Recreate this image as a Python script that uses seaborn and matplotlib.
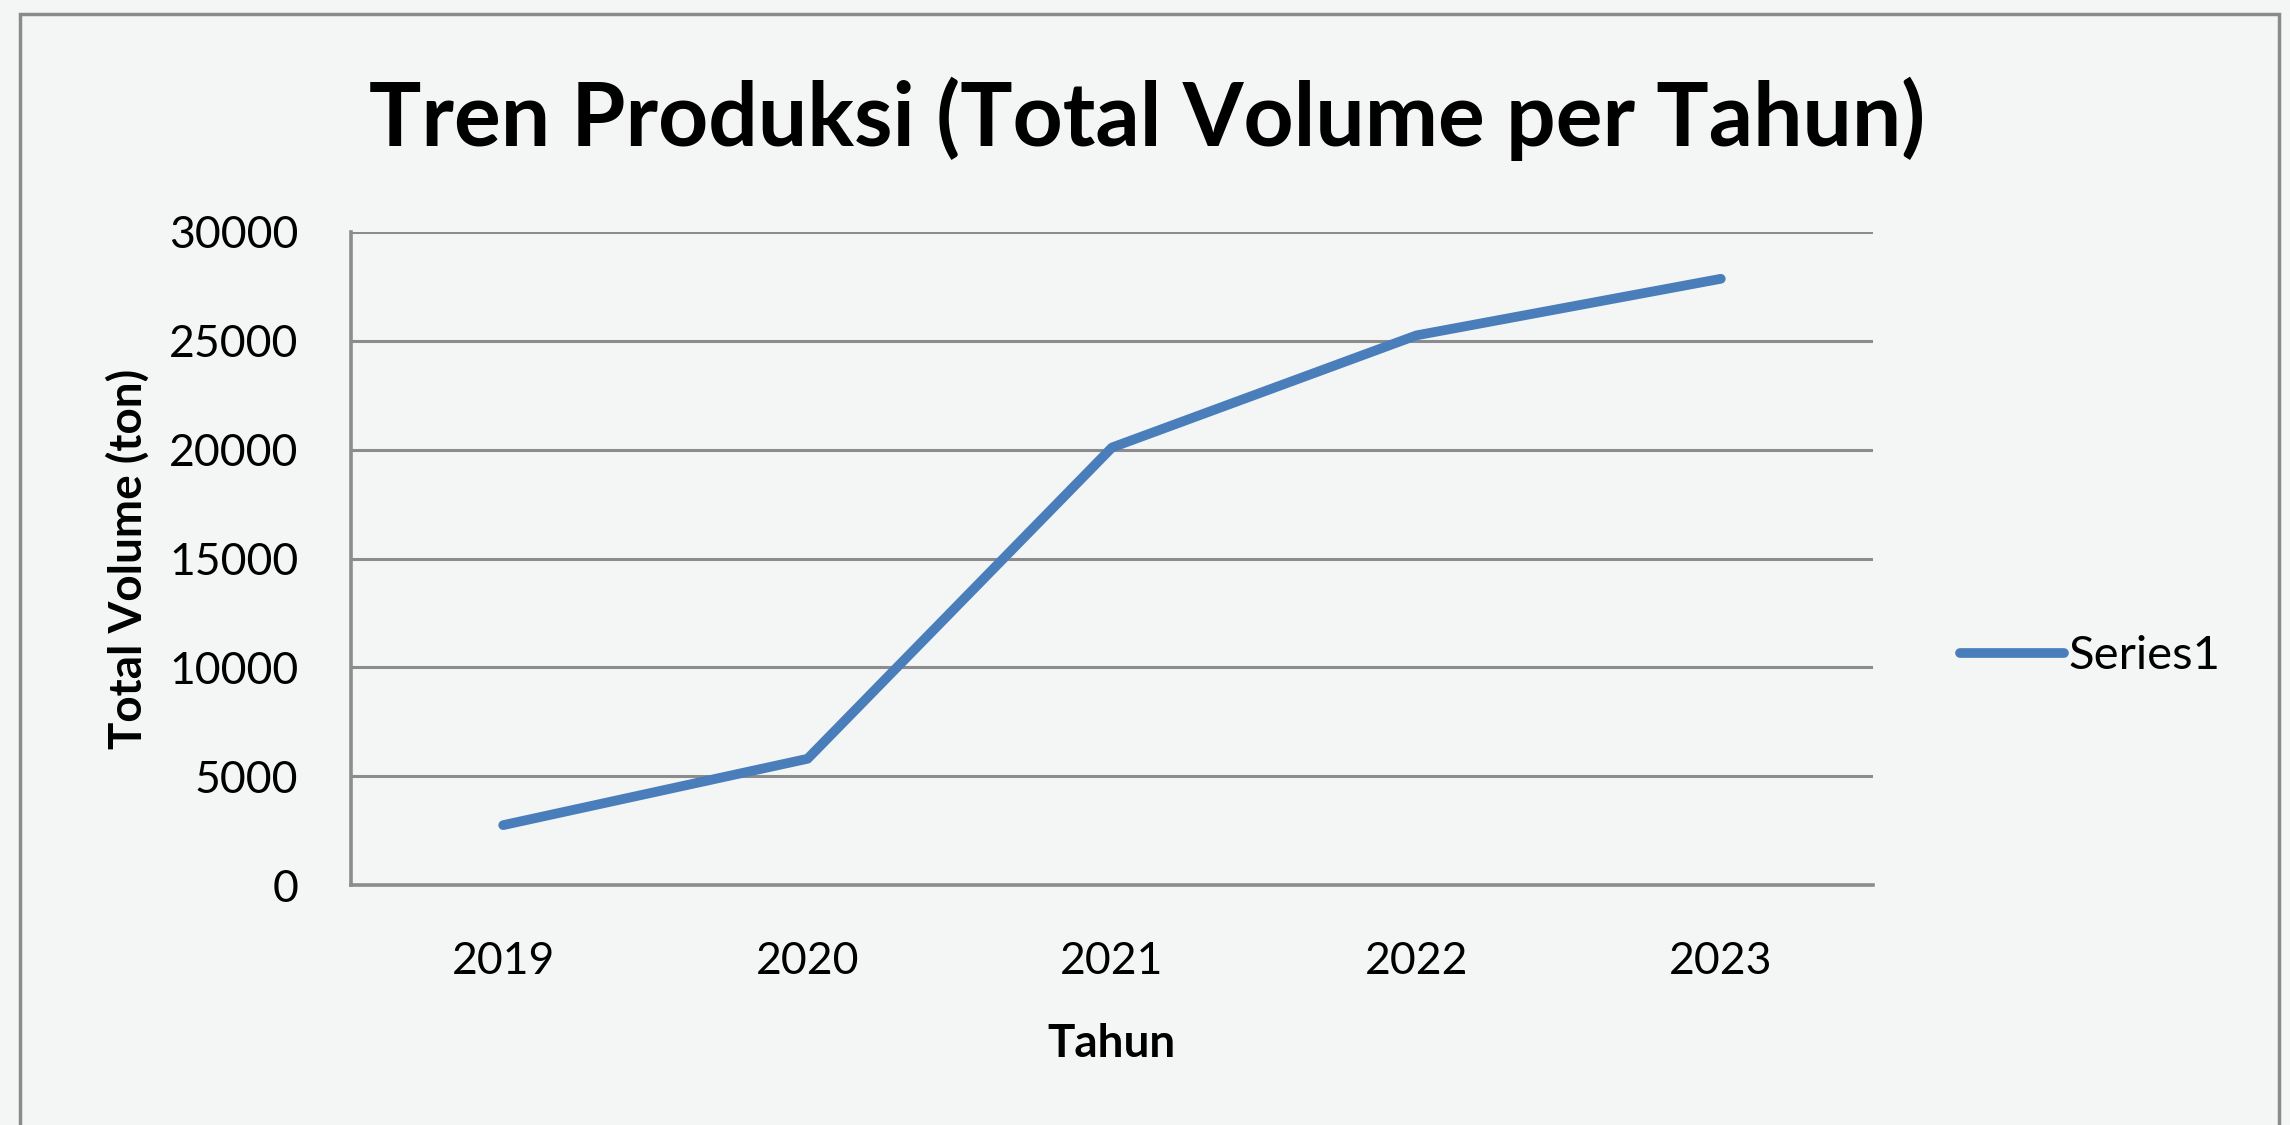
import pandas as pd
import matplotlib.pyplot as plt
import seaborn as sns
from matplotlib.patches import Rectangle

years = ["2019", "2020", "2021", "2022", "2023"]
volume = [2750, 5800, 20100, 25250, 27850]
series_name = "Series1"
y_ticks = [0, 5000, 10000, 15000, 20000, 25000, 30000]

df = pd.DataFrame({"Tahun": years, "Volume": volume, "Series": series_name})

bg = "#f4f6f5"
grid_col = "#8c8c8c"
line_col = "#4a7ebb"

sns.set_style("white")
plt.rcParams["font.family"] = ["Lato", "DejaVu Sans"]
plt.rcParams["text.color"] = "black"
plt.rcParams["axes.labelcolor"] = "black"

fig = plt.figure(figsize=(22.9, 11.25), dpi=100, facecolor=bg)
ax = fig.add_axes([351 / 2290, 1 - 885 / 1125, 1522 / 2290, 653 / 1125])
ax.set_facecolor(bg)

sns.lineplot(data=df, x="Tahun", y="Volume", hue="Series", palette=[line_col],
             linewidth=7, sort=False, ax=ax)

ax.set_xlim(-0.5, 4.5)
ax.set_ylim(0, 30000)
ax.set_yticks(y_ticks)
ax.set_yticklabels([str(t) for t in y_ticks])
ax.yaxis.grid(True, color=grid_col, linewidth=2.2)
ax.set_axisbelow(True)

for side in ["top", "right"]:
    ax.spines[side].set_visible(False)
for side in ["left", "bottom"]:
    ax.spines[side].set_color(grid_col)
    ax.spines[side].set_linewidth(2.6)

ax.tick_params(axis="both", length=0, labelsize=32, colors="black")
ax.tick_params(axis="y", pad=38)
ax.tick_params(axis="x", pad=40)

ax.set_xlabel("Tahun", fontsize=33, fontweight="bold", labelpad=30, color="black")
ax.set_ylabel("Total Volume (ton)", fontsize=33, fontweight="bold", labelpad=14,
              color="black")

fig.text(0.501, 0.87, "Tren Produksi (Total Volume per Tahun)", ha="center",
         va="baseline", fontsize=63, fontweight="bold", color="black")

ax.legend(loc="center left", bbox_to_anchor=(1.029, 0.35), frameon=False,
          fontsize=34, handlelength=2.2, handletextpad=0.1, title=None)

fig.add_artist(Rectangle((20 / 2290, -0.05), (2279 - 20) / 2290, 1.05 - 14 / 1125,
                         transform=fig.transFigure, fill=False,
                         edgecolor="#8a8a8a", linewidth=2.5))

fig.savefig("out.png", dpi=100, facecolor=bg)
